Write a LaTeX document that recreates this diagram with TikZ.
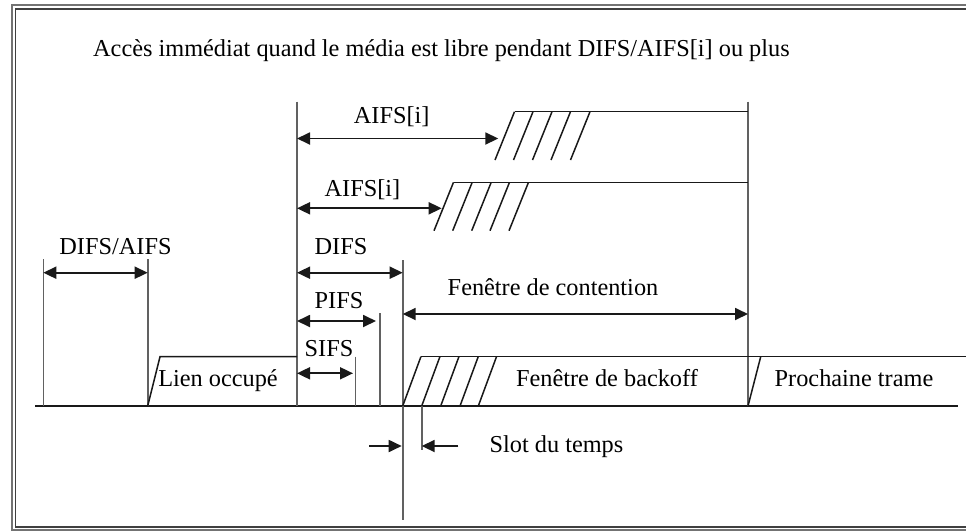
\documentclass[tikz,border=0pt]{standalone}
\usepackage{fontspec}
\setmainfont{Liberation Serif}
\usetikzlibrary{arrows.meta}
\begin{document}
\begin{tikzpicture}[x=1pt,y=-1pt,
  lbl/.style={anchor=base,inner sep=0pt,font=\fontsize{24.3}{28}\selectfont},
  axisline/.style={line width=1.8pt,black!90},
  tick/.style={line width=1.6pt,black!62},
  hatchline/.style={line width=1.5pt,black!90},
  dim/.style={line width=1.8pt,black!90,{Triangle[length=13pt,width=12pt]}-{Triangle[length=13pt,width=12pt]}},
  pointer/.style={line width=1.8pt,black!90,-{Triangle[length=13pt,width=12pt]}},
  frameline/.style={line width=1.3pt,black!55}]
\useasboundingbox (0,0) rectangle (966,531);
\fill[white] (0,0) rectangle (966,531);

% double frame, open on the right
\draw[frameline] (970,5) -- (12,5) -- (12,530) -- (970,530);
\draw[frameline,black!75] (970,9) -- (15.5,9) -- (15.5,527) -- (970,527);

% title
\node[lbl,anchor=base west] (title) at (93,56) {Accès immédiat quand le média est libre pendant DIFS/AIFS[i] ou plus};

% time axis
\coordinate (ax0) at (35,406);
\coordinate (ax1) at (958,406);
\draw[axisline] (ax0) -- (ax1);

% key instants
\coordinate (t0top) at (43.3,259);   \coordinate (t0) at (43.3,406);
\coordinate (t1top) at (147.7,259);  \coordinate (t1) at (147.7,406);
\coordinate (t2top) at (297,101.7);  \coordinate (t2) at (297,406);
\coordinate (tstop) at (355.3,356.7);\coordinate (ts) at (355.3,406);
\coordinate (tptop) at (380,313);    \coordinate (tp) at (380,406);
\coordinate (tdtop) at (402.7,260);  \coordinate (tdbot) at (402.7,520);
\coordinate (tetop) at (748,101.7);  \coordinate (te) at (748,406);
\coordinate (slottop) at (421.7,406);\coordinate (slotbot) at (421.7,450);

\draw[tick] (t0top) -- (t0);
\draw[tick] (t1top) -- (t1);
\draw[tick] (t2top) -- (t2);
\draw[tick] (tstop) -- (ts);
\draw[tick] (tptop) -- (tp);
\draw[tick] (tdtop) -- (tdbot);
\draw[tick] (tetop) -- (te);
\draw[tick] (slottop) -- (slotbot);

% busy medium
\coordinate (busyA) at (160,356.7);
\coordinate (busyB) at (297,356.7);
\draw[hatchline] (t1) -- (busyA) -- (busyB);
\node[lbl] (busy) at (218,386.7) {Lien occupé};

% backoff window and next frame
\coordinate (bkA) at (420.7,356.7);
\coordinate (bkB) at (970,356.7);
\draw[hatchline] (bkA) -- (bkB);
\foreach \x in {402.7,421.7,440.7,460,478.3}
  \draw[hatchline] (\x,406) -- ++(18.2,-49.3);
\coordinate (nxA) at (760.7,356.7);
\draw[hatchline] (te) -- (nxA);
\node[lbl] (bk) at (607,386.7) {Fenêtre de backoff};
\node[lbl] (nx) at (854,386.7) {Prochaine trame};

% AIFS[i] staircases
\coordinate (a1A) at (515,111.7);
\coordinate (a1B) at (748,111.7);
\draw[hatchline] (a1A) -- (a1B);
\foreach \x in {495,513.5,532.5,551,570.5}
  \draw[hatchline] (\x,160) -- ++(19.5,-48.3);
\coordinate (a2A) at (454,182.3);
\coordinate (a2B) at (748,182.3);
\draw[hatchline] (a2A) -- (a2B);
\foreach \x in {434,452.7,471.7,490,509}
  \draw[hatchline] (\x,230.7) -- ++(19.5,-48.4);

% interval arrows
\coordinate (d1a) at (43.3,272.7);  \coordinate (d1b) at (147.7,272.7);
\draw[dim] (d1a) -- (d1b);
\node[lbl] (difsaifs) at (115.5,254) {DIFS/AIFS};

\coordinate (d2a) at (297,272.7);   \coordinate (d2b) at (402.7,272.7);
\draw[dim] (d2a) -- (d2b);
\node[lbl] (difs) at (341,254) {DIFS};

\coordinate (d3a) at (297,321);     \coordinate (d3b) at (376,321);
\draw[dim] (d3a) -- (d3b);
\node[lbl] (pifs) at (339,308) {PIFS};

\coordinate (d4a) at (297,373.3);   \coordinate (d4b) at (353,373.3);
\draw[dim] (d4a) -- (d4b);
\node[lbl] (sifs) at (329,356) {SIFS};

\coordinate (d5a) at (402.7,314);   \coordinate (d5b) at (748,314);
\draw[dim] (d5a) -- (d5b);
\node[lbl] (cw) at (553,295) {Fenêtre de contention};

\coordinate (d6a) at (297,138.5);   \coordinate (d6b) at (498.3,138.5);
\draw[dim] (d6a) -- (d6b);
\node[lbl] (aifs1) at (391.7,123.3) {AIFS[i]};

\coordinate (d7a) at (297,208.3);   \coordinate (d7b) at (441.7,208.3);
\draw[dim] (d7a) -- (d7b);
\node[lbl] (aifs2) at (362.5,196) {AIFS[i]};

% slot time marker
\coordinate (s1a) at (369.3,446);   \coordinate (s1b) at (401.7,446);
\coordinate (s2a) at (458.3,446);   \coordinate (s2b) at (421.7,446);
\draw[pointer] (s1a) -- (s1b);
\draw[pointer] (s2a) -- (s2b);
\node[lbl] (slot) at (556.5,452.7) {Slot du temps};
\end{tikzpicture}
\end{document}
